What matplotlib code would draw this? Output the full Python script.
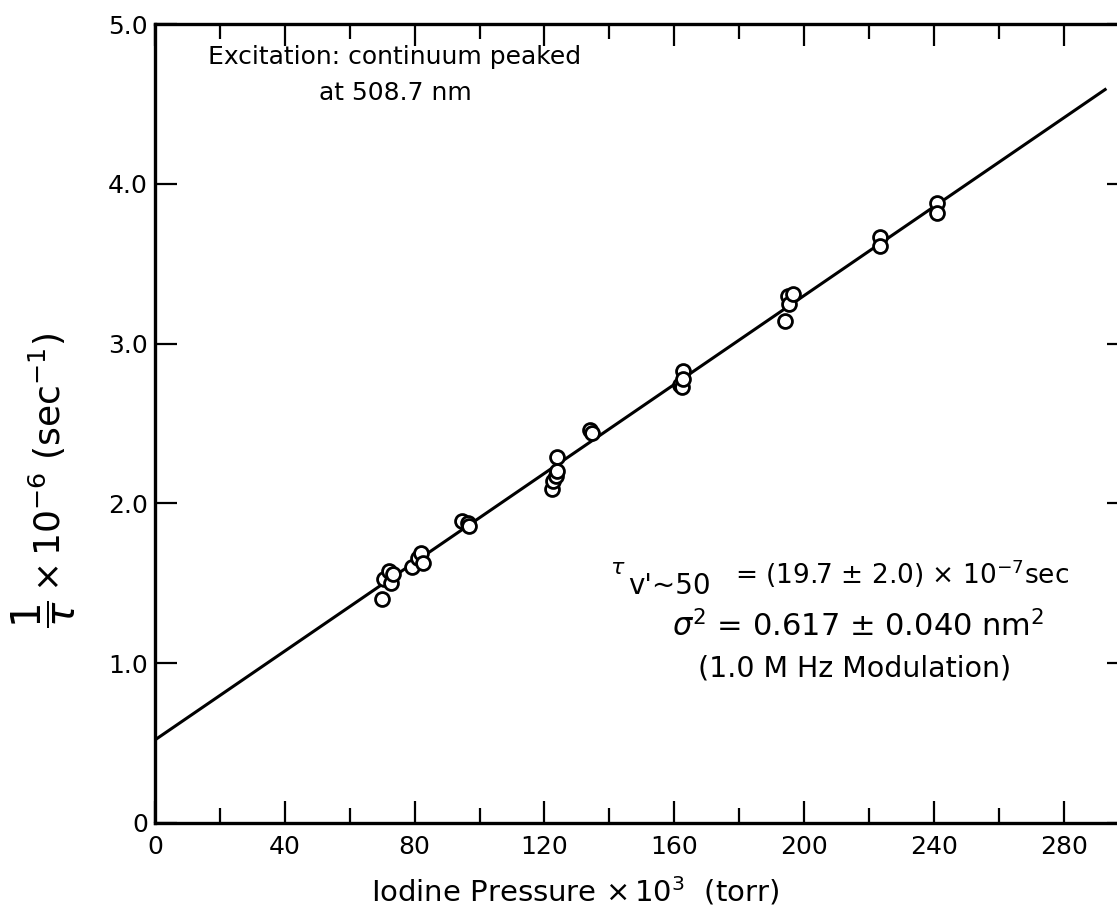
import numpy as np
import matplotlib
matplotlib.use('Agg')
import matplotlib.pyplot as plt
from matplotlib.ticker import MultipleLocator, FixedLocator

# values
pressure = [70.0, 70.7, 72.2, 72.6, 73.3, 79.1, 81.1, 81.9, 82.7,
            94.5, 96.5, 96.8,
            122.2, 122.8, 123.5, 123.8, 123.8,
            134.0, 134.6,
            161.8, 162.3, 162.8, 162.8,
            194.1, 195.2, 195.5, 196.7,
            223.4, 223.4,
            240.9, 240.9]
rate = [1.40, 1.53, 1.58, 1.50, 1.56, 1.60, 1.66, 1.69, 1.63,
        1.89, 1.88, 1.86,
        2.09, 2.14, 2.17, 2.29, 2.20,
        2.46, 2.44,
        2.74, 2.73, 2.83, 2.78,
        3.14, 3.30, 3.25, 3.31,
        3.67, 3.61,
        3.88, 3.82]
fit_x = [0, 292.8]
fit_y = [0.52, 4.59]

xticks = [0, 40, 80, 120, 160, 200, 240, 280]
yticks = [0, 1, 2, 3, 4, 5]
ytick_labels = ['0', '1.0', '2.0', '3.0', '4.0', '5.0']

plt.rcParams['font.family'] = 'DejaVu Sans'
plt.rcParams['mathtext.fontset'] = 'dejavusans'

W, H = 1117, 924
fig = plt.figure(figsize=(W/100, H/100), dpi=100)
ax = fig.add_axes([155/W, 101/H, 300*3.245/W, 799/H])

ax.plot(fit_x, fit_y, color='black', lw=2.2, zorder=2)
ax.plot(pressure, rate, 'o', ms=10, mfc='white', mec='black', mew=2.0, zorder=3)

ax.set_xlim(0, 300)
ax.set_ylim(0, 5)
ax.xaxis.set_major_locator(FixedLocator(xticks))
ax.xaxis.set_minor_locator(MultipleLocator(20))
ax.set_xticklabels([str(t) for t in xticks])
ax.set_yticks(yticks)
ax.set_yticklabels(ytick_labels)

for s in ax.spines.values():
    s.set_linewidth(2.4)
ax.tick_params(which='both', direction='in', top=True, right=True, width=1.6)
ax.tick_params(which='major', length=16, labelsize=18)
ax.tick_params(which='minor', length=11)
ax.tick_params(axis='x', pad=9)
ax.tick_params(axis='y', pad=5)

ax.set_xlabel(r'Iodine Pressure $\times\,10^{3}$  (torr)', fontsize=21)
ax.xaxis.set_label_coords(0.432, -0.065)

# y label: big 1/tau fraction plus the rest, both rotated
fig.text(44/W, 1 - 614/H, r'$\dfrac{1}{\tau}$', rotation=90, fontsize=29,
         ha='center', va='center')
fig.text(47/W, 1 - 592/H, r'$\times\,10^{-6}\ (\mathrm{sec}^{-1})$', rotation=90,
         fontsize=26, ha='center', va='bottom')

def px(x, y):
    return ((x - 155) / 3.245, (823 - y) / 159.8)

ax.text(*px(395, 75), 'Excitation: continuum peaked\nat 508.7 nm', fontsize=18,
        ha='center', va='center', linespacing=1.6)

ax.text(*px(618, 568), r'$\tau$', fontsize=16, ha='center', va='center')
ax.text(*px(628, 586), "v'~50", fontsize=20, ha='left', va='center')
ax.text(*px(735, 574), r'= (19.7 ± 2.0) × 10$^{-7}$sec', fontsize=19, ha='left', va='center')
ax.text(*px(672, 626), r'$\sigma^{2}$ = 0.617 ± 0.040 nm$^{2}$', fontsize=22, ha='left', va='center')
ax.text(*px(698, 668), '(1.0 M Hz Modulation)', fontsize=20.5, ha='left', va='center')

fig.savefig('out.png', dpi=100)
